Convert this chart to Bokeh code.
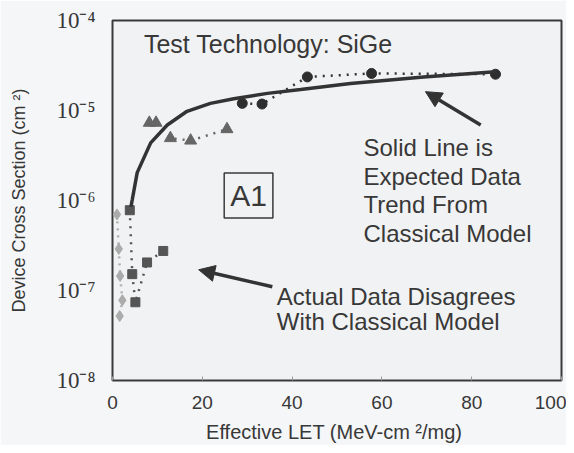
from bokeh.plotting import figure
from bokeh.models import Label, Arrow, NormalHead, CustomJSTickFormatter, FixedTicker, Range1d
from bokeh.embed import file_html
from bokeh.resources import INLINE

# ---- data ----
model_let = [4.1, 4.4, 5.5, 8.5, 12.2, 16.6, 21.8, 27.0, 34.5, 41.9, 53.0, 69.3, 85.3]
model_xs = [8.5e-7, 1.02e-6, 2.04e-6, 4.37e-6, 6.9e-6, 9.8e-6, 1.2e-5, 1.35e-5, 1.55e-5, 1.71e-5, 2.0e-5, 2.36e-5, 2.69e-5]

circle_let = [28.9, 33.3, 43.4, 57.7, 85.3]
circle_xs = [1.2e-5, 1.18e-5, 2.36e-5, 2.58e-5, 2.53e-5]

triangle_let = [8.2, 9.7, 12.9, 17.4, 25.5]
triangle_xs = [7.3e-6, 7.3e-6, 4.93e-6, 4.63e-6, 6.2e-6]

square_let = [3.85, 4.4, 5.1, 7.7, 11.3]
square_xs = [7.8e-7, 1.52e-7, 7.4e-8, 2.05e-7, 2.75e-7]

diamond_let = [1.0, 1.4, 1.7, 2.2, 1.6]
diamond_xs = [7.0e-7, 2.9e-7, 1.45e-7, 7.8e-8, 5.2e-8]

x_ticks = [0, 20, 40, 60, 80, 100]
y_ticks = [1e-8, 1e-7, 1e-6, 1e-5, 1e-4]

SANS = "Liberation Sans"
SERIF = "Liberation Serif"
INK = "#383838"

p = figure(width=566, height=445, y_axis_type="log",
           x_range=Range1d(0, 100), y_range=Range1d(1e-8, 1e-4),
           output_backend="svg", toolbar_location=None,
           min_border_left=112, min_border_right=5, min_border_top=20, min_border_bottom=63)

p.background_fill_color = "#f1f2f3"
p.border_fill_color = "#f5f6f7"
p.outline_line_color = "#3a3a3a"
p.outline_line_width = 2
p.xgrid.visible = False
p.ygrid.visible = False

# x axis
xa = p.xaxis[0]
xa.ticker = FixedTicker(ticks=x_ticks)
xa.axis_line_color = None
xa.major_tick_in = 4
xa.major_tick_out = 0
xa.major_tick_line_color = "#9a9a9a"
xa.minor_tick_line_color = None
xa.major_label_text_font = SANS
xa.major_label_text_font_size = "19px"
xa.major_label_text_color = INK
xa.major_label_standoff = 15
xa.axis_label = "Effective LET (MeV-cm  \u00b2/mg)"
xa.axis_label_text_font = SANS
xa.axis_label_text_font_size = "20px"
xa.axis_label_text_font_style = "normal"
xa.axis_label_text_color = INK
xa.axis_label_standoff = 9

# y axis
ya = p.yaxis[0]
ya.ticker = FixedTicker(ticks=y_ticks)
ya.axis_line_color = None
ya.major_tick_in = 0
ya.major_tick_out = 0
ya.minor_tick_line_color = None
ya.formatter = CustomJSTickFormatter(code="""
const sup = {'-': '\u207b', '0': '\u2070', '1': '\u00b9', '2': '\u00b2', '3': '\u00b3',
             '4': '\u2074', '5': '\u2075', '6': '\u2076', '7': '\u2077', '8': '\u2078', '9': '\u2079'};
const e = Math.round(Math.log10(tick));
return '10' + String(e).split('').map(c => sup[c]).join('');
""")
ya.major_label_text_font = SERIF
ya.major_label_text_font_size = "23px"
ya.major_label_text_color = INK
ya.major_label_standoff = 17
ya.axis_label = "Device Cross Section (cm \u00b2)"
ya.axis_label_text_font = SANS
ya.axis_label_text_font_size = "18px"
ya.axis_label_text_font_style = "normal"
ya.axis_label_text_color = INK
ya.axis_label_standoff = 24

# ---- series ----
p.line(diamond_let, diamond_xs, line_color="#b0b0b0", line_width=2.5, line_dash="2 5")
p.scatter(diamond_let, diamond_xs, marker="diamond", size=11, fill_color="#ababab", line_color="#ababab")

p.line(square_let, square_xs, line_color="#555555", line_width=2.5, line_dash="2 6")
p.scatter(square_let, square_xs, marker="square", size=9, fill_color="#555555", line_color="#555555")

p.line(triangle_let, triangle_xs, line_color="#666666", line_width=2.5, line_dash="2 6")
p.scatter(triangle_let, triangle_xs, marker="triangle", size=12, fill_color="#666666", line_color="#666666")

p.line(circle_let, circle_xs, line_color="#333333", line_width=2.5, line_dash="2 6")
p.scatter(circle_let, circle_xs, marker="circle", size=10, fill_color="#2e2e2e", line_color="#2e2e2e")

p.line(model_let, model_xs, line_color="#333333", line_width=3.5)

# ---- annotations ----
def lab(x, y, text, size="24px", **kw):
    l = Label(x=x, y=y, text=text, text_font=SANS, text_font_size=size, text_color=INK,
              text_baseline="middle", **kw)
    p.add_layout(l)
    return l

lab(7.0, 5.43e-5, "Test Technology: SiGe", size="25px")
for yy, t in zip([3.85e-6, 1.84e-6, 9.0e-7, 4.3e-7],
                 ["Solid Line is", "Expected Data", "Trend From", "Classical Model"]):
    lab(55.9, yy, t)
for yy, t in zip([8.5e-8, 4.5e-8], ["Actual Data Disagrees", "With Classical Model"]):
    lab(36.6, yy, t)

lab(30.3, 1.135e-6, "A1", size="30px", text_align="center",
    border_line_color="#3a3a3a", border_line_width=1.5, padding=6)

p.add_layout(Arrow(end=NormalHead(size=16, fill_color="#333333", line_color="#333333"),
                   x_start=82.0, y_start=6.9e-6, x_end=69.7, y_end=1.62e-5,
                   line_color="#333333", line_width=3.5))
p.add_layout(Arrow(end=NormalHead(size=16, fill_color="#333333", line_color="#333333"),
                   x_start=35.6, y_start=1.1e-7, x_end=19.2, y_end=1.7e-7,
                   line_color="#333333", line_width=3.5))

open("out.html", "w").write(file_html(p, INLINE))
